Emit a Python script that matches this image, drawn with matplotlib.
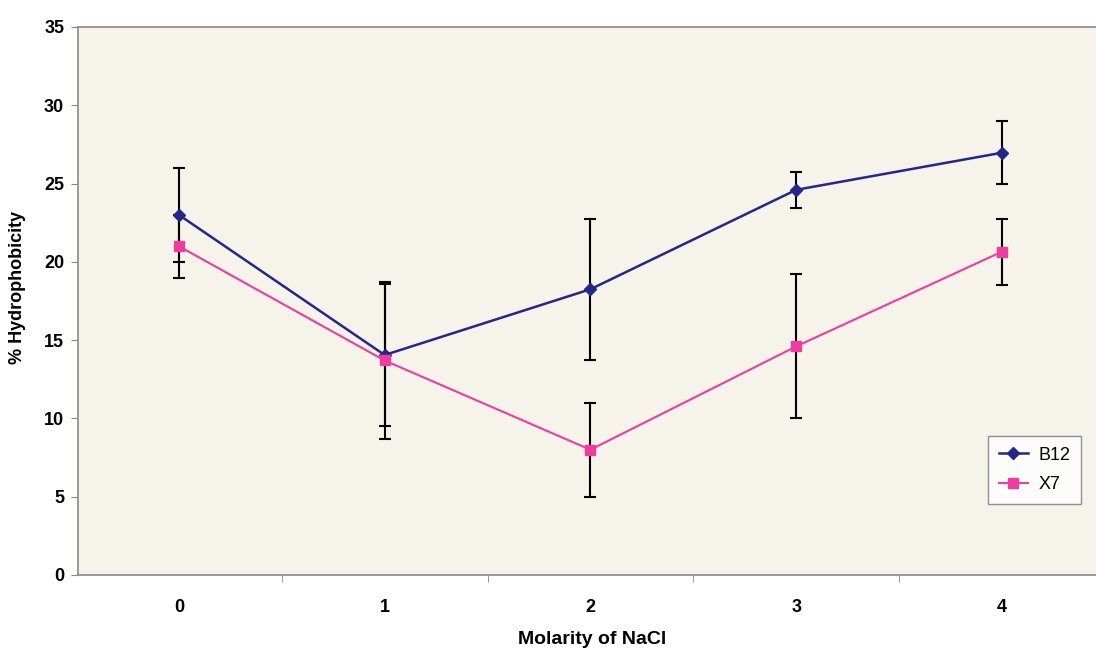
import matplotlib.pyplot as plt

molarity = [0, 1, 2, 3, 4]
b12 = [23.0, 14.05, 18.25, 24.6, 26.97]
b12_err = [3.0, 4.55, 4.5, 1.15, 2.0]
x7 = [21.0, 13.7, 8.0, 14.6, 20.65]
x7_err = [2.0, 5.0, 3.0, 4.6, 2.1]

plt.rcParams['font.family'] = ['Liberation Sans', 'DejaVu Sans']

fig = plt.figure(figsize=(10.96, 6.52), dpi=100)
ax = fig.add_axes([0.0712, 0.1181, 0.9288, 0.8405])
ax.set_facecolor('#f5f3ea')

# error bars first, then the lines on top
ax.errorbar(molarity, b12, yerr=b12_err, fmt='none', ecolor='black', elinewidth=1.5, capsize=4, capthick=1.5, zorder=2)
ax.errorbar(molarity, x7, yerr=x7_err, fmt='none', ecolor='black', elinewidth=1.5, capsize=4, capthick=1.5, zorder=2)
ax.plot(molarity, b12, color='#26268a', lw=1.8, marker='D', ms=6, label='B12', zorder=3)
ax.plot(molarity, x7, color='#ee3d9e', lw=1.5, marker='s', ms=7, label='X7', zorder=3)

ax.set_yticks(range(0, 36, 5))
ax.set_xticks(molarity)
ax.set_xticks([0.5, 1.5, 2.5, 3.5], minor=True)
ax.set_xlim(-0.49, 4.457)
ax.set_ylim(0, 35)
ax.tick_params(axis='x', which='major', length=0, pad=17)
ax.tick_params(axis='x', which='minor', length=5, color='#888888')
ax.tick_params(axis='y', length=5, color='#888888', pad=5)
for lab in ax.get_xticklabels() + ax.get_yticklabels():
    lab.set_fontweight('bold')
    lab.set_fontsize(13)

for side in ['left', 'top', 'bottom']:
    ax.spines[side].set_color('#8a8a8a')
    ax.spines[side].set_linewidth(1.2)
ax.spines['right'].set_visible(False)

# axis titles placed on the figure
fig.text(592 / 1096, 1 - 640 / 652, 'Molarity of NaCl', fontsize=14, fontweight='bold',
         ha='center', va='center')
fig.text(18 / 1096, 1 - 287 / 652, '% Hydrophobicity', fontsize=13, fontweight='bold',
         ha='center', va='center', rotation=90)

leg = ax.legend(loc='upper left', bbox_to_anchor=(0.894, 0.254), borderaxespad=0, fontsize=13,
                frameon=True, fancybox=False, handlelength=1.6, handletextpad=0.6,
                borderpad=0.6, labelspacing=0.7)
leg.get_frame().set_edgecolor('#777777')
leg.get_frame().set_facecolor('white')

plt.savefig('out.png', dpi=100)
